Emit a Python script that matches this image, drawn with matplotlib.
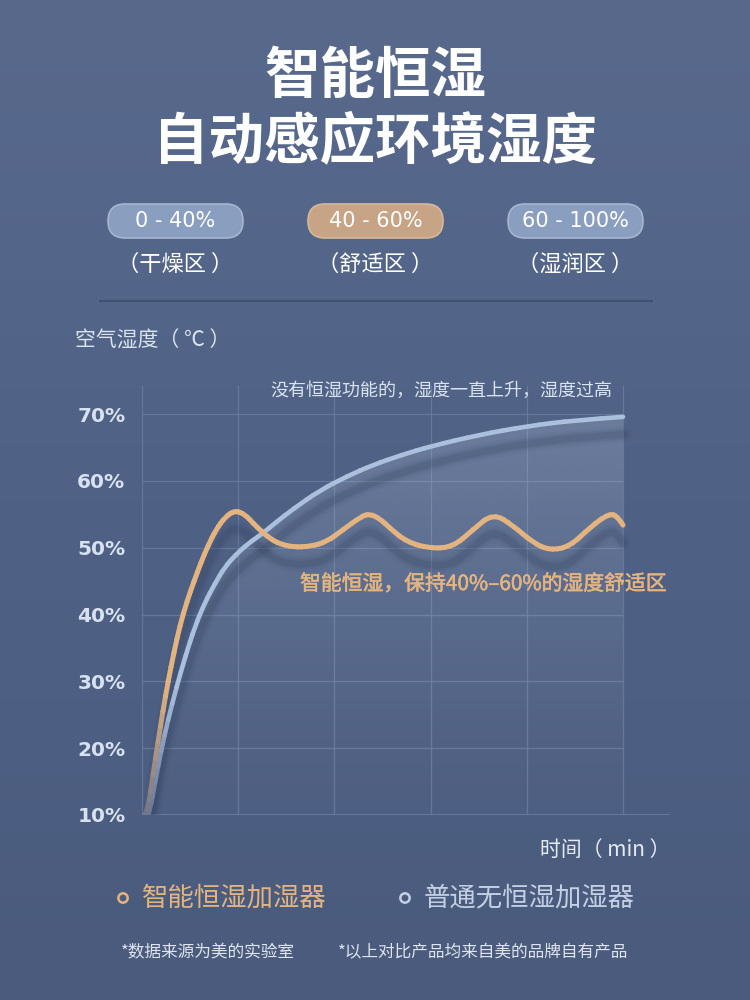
#!/usr/bin/env python3
"""Smart constant-humidity vs ordinary humidifier chart."""
import numpy as np
import matplotlib
matplotlib.use('Agg')
import matplotlib.pyplot as plt
import matplotlib.patheffects as pe
from matplotlib.patches import FancyBboxPatch, Polygon
from matplotlib.collections import LineCollection
from matplotlib.colors import to_rgb
from matplotlib.path import Path

plt.rcParams['font.family'] = ['Noto Sans CJK SC', 'DejaVu Sans']

# ---- data -----------------------------------------------------------------
title_lines = ['智能恒湿', '自动感应环境湿度']
zone_ranges = ['0 - 40%', '40 - 60%', '60 - 100%']
zone_names = ['（干燥区 ）', '（舒适区 ）', '（湿润区 ）']
y_label = '空气湿度（ ℃ ）'
x_label = '时间（ min ）'
note_normal = '没有恒湿功能的，湿度一直上升，湿度过高'
note_smart = '智能恒湿，保持40%–60%的湿度舒适区'
legend_labels = ['智能恒湿加湿器', '普通无恒湿加湿器']
footnotes = ['*数据来源为美的实验室', '*以上对比产品均来自美的品牌自有产品']

y_ticks = [10, 20, 30, 40, 50, 60, 70]
x_grid = [0, 1, 2, 3, 4, 5]

# smart humidifier (orange)
time_smart = [0.03, 0.062, 0.114, 0.166, 0.218, 0.270, 0.333, 0.395, 0.468, 0.541,
              0.613, 0.686, 0.769, 0.863, 0.967, 1.07, 1.16, 1.24, 1.33, 1.43,
              1.57, 1.75, 1.92, 2.09, 2.27, 2.36, 2.47, 2.58, 2.75, 2.99,
              3.23, 3.44, 3.65, 3.86, 4.06, 4.24, 4.45, 4.66, 4.86, 4.95,
              5.0]
hum_smart = [10.0, 10.8, 16.0, 20.9, 25.6, 29.9, 34.4, 38.4, 42.0, 45.0,
             47.8, 50.3, 52.7, 54.6, 55.6, 55.0, 53.6, 52.5, 51.4, 50.6,
             50.1, 50.2, 50.9, 52.7, 54.6, 55.1, 54.4, 52.9, 50.9, 49.9,
             50.1, 52.7, 55.2, 53.3, 50.8, 49.6, 50.2, 53.1, 55.2, 54.6,
             53.4]

# ordinary humidifier (blue)
time_normal = [0.06, 0.083, 0.135, 0.20, 0.27, 0.36, 0.45, 0.55, 0.65, 0.76,
               0.86, 0.97, 1.10, 1.24, 1.40, 1.57, 1.85, 2.13, 2.40, 2.70,
               3.00, 3.50, 4.00, 4.50, 5.0]
hum_normal = [9.8, 10.7, 14.8, 19.7, 24.2, 29.2, 33.7, 38.2, 41.7, 44.7,
              47.1, 48.9, 50.6, 52.0, 53.9, 55.8, 58.6, 60.7, 62.4, 63.9,
              65.2, 66.9, 68.2, 69.1, 69.6]

# ---- colours --------------------------------------------------------------
ORANGE = '#e4b480'
BLUE = '#aac0dd'
GRID = '#6b7ea2'
LIGHT = '#dbe3ee'
BG_LOW = '#52658a'

W, H = 750, 1000
fig = plt.figure(figsize=(7.5, 10), dpi=100)

# background / overlay axes in pixel coordinates
bg = fig.add_axes([0, 0, 1, 1])
bg.set_xlim(0, W)
bg.set_ylim(H, 0)
bg.axis('off')

top = np.array(to_rgb('#58698c'))
mid = np.array(to_rgb('#4f6286'))
bot = np.array(to_rgb('#4a5b7d'))
t = np.linspace(0, 1, 200)[:, None]
col = np.where(t < 0.5, top + (mid - top) * (t / 0.5), mid + (bot - mid) * ((t - 0.5) / 0.5))
grad = np.repeat(col[:, None, :], 2, axis=1)
bg.imshow(grad, extent=[0, W, H, 0], aspect='auto', zorder=0, interpolation='bicubic')

# title
for txt, y in zip(title_lines, [77, 142]):
    bg.text(W / 2, y, txt, ha='center', va='center', fontsize=40, fontweight='bold',
            color='white', zorder=3)

# zone pills
pill_x = [108, 308, 508]
pill_fill = ['#8a9ec0', '#c6a485', '#8a9ec0']
pill_edge = ['#a5b6d2', '#d6b89a', '#a5b6d2']
for x0, rng, name, fc, ec in zip(pill_x, zone_ranges, zone_names, pill_fill, pill_edge):
    box = FancyBboxPatch((x0, 204), 135, 34, boxstyle='round,pad=0,rounding_size=17',
                         facecolor=fc, edgecolor=ec, lw=1.2, zorder=2)
    bg.add_patch(box)
    bg.text(x0 + 67.5, 221, rng, ha='center', va='center', fontsize=15,
            color='white', family=['DejaVu Sans'], zorder=3)
    bg.text(x0 + 67.5, 264, name, ha='center', va='center', fontsize=16,
            color='white', zorder=3)

bg.plot([100, 652], [301, 301], color='#3b4c6e', lw=1.2, zorder=2)

bg.text(75, 341, y_label, ha='left', va='center', fontsize=15, color=LIGHT, zorder=3)
bg.text(671, 850, x_label, ha='right', va='center', fontsize=15, color='#e6ebf3', zorder=3)

# legend
leg_x = [123, 405]
leg_col = [ORANGE, '#c3d0e4']
for x0, lab, c in zip(leg_x, legend_labels, leg_col):
    bg.scatter([x0], [898], s=45, facecolors='none', edgecolors=c, linewidths=1.8, zorder=3)
    bg.text(x0 + 19, 898, lab, ha='left', va='center', fontsize=19, color=c, zorder=3)

# footnotes
for x0, txt in zip([121, 338], footnotes):
    bg.text(x0, 953, txt, ha='left', va='center', fontsize=12, color='#dfe5ef', zorder=3)

# ---- chart axes -----------------------------------------------------------
px_x = 96.2   # pixels per time unit
px_y = 6.68   # pixels per humidity %
ax = fig.add_axes([142 / W, 185 / H, 528 / W, 430 / H])
ax.set_facecolor('none')
ax.set_xlim(0, 528 / px_x)
ax.set_ylim(10, 10 + 430 / px_y)
ymax = 10 + 430 / px_y

# grid
ax.hlines(y_ticks[1:], 0, 5, color=GRID, lw=0.9, alpha=0.8, zorder=1)
ax.vlines(x_grid, 10, ymax, color=GRID, lw=0.9, alpha=0.8, zorder=1)
ax.axhline(10, 0, 1, color=GRID, lw=1.2, zorder=1)


def smooth_path(xs, ys):
    # quadratic bezier path using the read points as control points
    pts = np.column_stack([xs, ys])
    verts = [pts[0]]
    codes = [Path.MOVETO]
    for i in range(1, len(pts) - 1):
        end = pts[i + 1] if i == len(pts) - 2 else (pts[i] + pts[i + 1]) / 2
        verts += [pts[i], end]
        codes += [Path.CURVE3, Path.CURVE3]
    return Path(verts, codes)


def flat_points(path):
    disp = ax.transData.transform_path(path)
    poly = disp.to_polygons(closed_only=False)[0]
    return ax.transData.inverted().transform(poly)


pts_normal = flat_points(smooth_path(time_normal, hum_normal))
pts_smart = flat_points(smooth_path(time_smart, hum_smart))

# translucent area under the ordinary curve
verts = list(pts_normal) + [(5, 10), (time_normal[0], 10)]
clip = Polygon(verts, closed=True, facecolor='none', edgecolor='none')
ax.add_patch(clip)
a = np.linspace(0.0, 1.0, 256)
fill = np.zeros((256, 2, 4))
fill[..., :3] = to_rgb('#d2dcec')
fill[..., 3] = (0.02 + 0.21 * a ** 1.4)[:, None]
im = ax.imshow(fill, extent=[0, 5, 10, 72], origin='lower', aspect='auto', zorder=2)
im.set_clip_path(clip)


def shadow(pts):
    xs, ys = pts[:, 0], pts[:, 1] - 2.6
    for lw, al in [(12, 0.06), (8, 0.1), (5, 0.14)]:
        ax.plot(xs, ys, color='#2f3d58', lw=lw, alpha=al, solid_capstyle='round',
                zorder=3)


def fading_line(pts, color, lw):
    segs = np.stack([pts[:-1], pts[1:]], axis=1)
    ymid = (pts[:-1, 1] + pts[1:, 1]) / 2
    f = np.clip(0.2 + (ymid - 10) / 25, 0.2, 1.0)[:, None]
    c1 = np.array(to_rgb(color))
    c0 = np.array(to_rgb(BG_LOW))
    colors = c0 + (c1 - c0) * f
    lc = LineCollection(segs, colors=colors, linewidths=lw, capstyle='round',
                        joinstyle='round', zorder=4)
    ax.add_collection(lc)


shadow(pts_normal)
shadow(pts_smart)
fading_line(pts_normal, BLUE, 3.3)
fading_line(pts_smart, ORANGE, 3.6)

ax.text((270 - 142) / px_x, 10 + (815 - 391) / px_y, note_normal, ha='left', va='center',
        fontsize=13, color=LIGHT, zorder=5)
ax.text((300 - 142) / px_x, 10 + (815 - 584) / px_y, note_smart, ha='left', va='center',
        fontsize=15, color=ORANGE, zorder=5,
        path_effects=[pe.withStroke(linewidth=0.4, foreground=ORANGE)])

ax.set_xlim(0, 528 / px_x)
ax.set_ylim(10, ymax)
ax.set_xticks([])
ax.set_yticks(y_ticks)
ax.set_yticklabels([f'{v}%' for v in y_ticks], fontsize=14.5, fontweight='bold',
                   color='#d8e1ef', family=['DejaVu Sans'])
ax.tick_params(axis='y', length=0, pad=12)
for s in ax.spines.values():
    s.set_visible(False)

fig.savefig('out.png', dpi=100)
plt.close(fig)
